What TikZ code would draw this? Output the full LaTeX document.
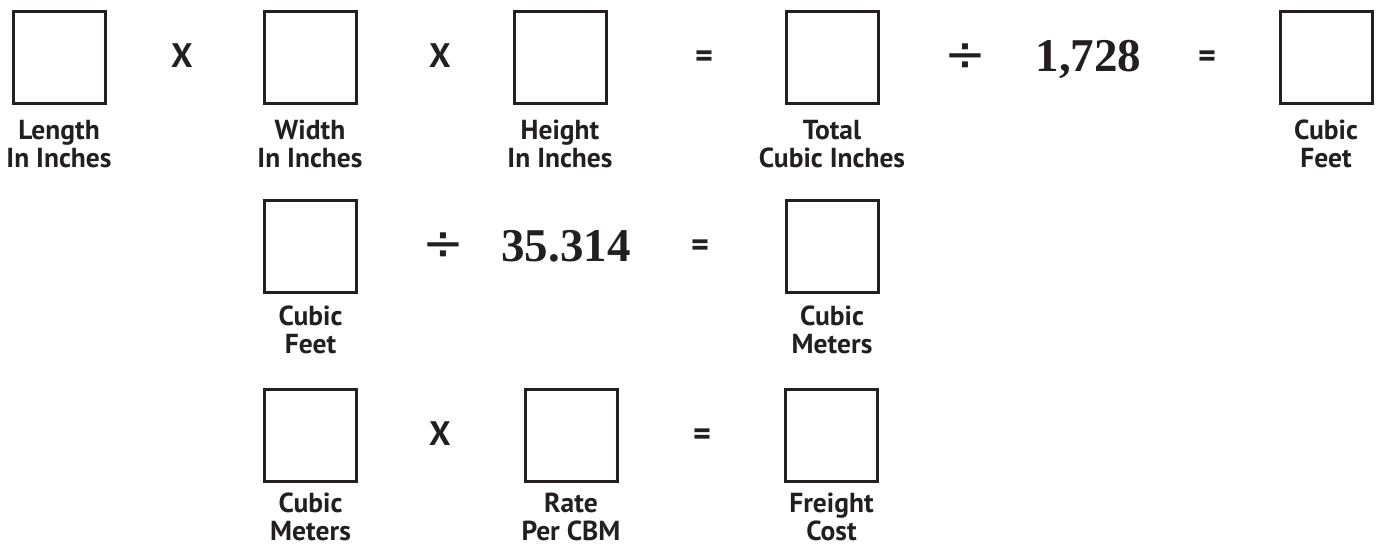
\documentclass[tikz,border=0pt]{standalone}
\usepackage{fontspec}
\setmainfont{PT Sans}
\newfontfamily\numfont{Liberation Serif}
\newfontfamily\symfont{DejaVu Sans}
\definecolor{ink}{HTML}{231F20}
\newcommand\twoline[2]{\vtop{\baselineskip=28pt\halign{\hfil##\hfil\cr #1\cr #2\cr}}}
\begin{document}
\begin{tikzpicture}[x=1pt,y=-1pt,
  valbox/.style={draw=ink,line width=3pt,minimum width=92pt,minimum height=92pt,inner sep=0pt},
  lbl/.style={anchor=base,inner sep=0pt,text=ink,font=\fontsize{27.5}{28}\selectfont\bfseries},
  op/.style={anchor=base,inner sep=0pt,text=ink,font=\fontsize{34}{36}\selectfont\bfseries},
  divop/.style={inner sep=0pt,text=ink,font=\fontsize{50}{52}\selectfont\symfont},
  num/.style={anchor=base,inner sep=0pt,text=ink,font=\fontsize{47}{50}\selectfont\numfont\bfseries}]
\useasboundingbox (0,0) rectangle (1376,546);
% Row 1
\node[valbox] (b1) at (59,57.5) {};
\node[valbox] (b2) at (310,57.5) {};
\node[valbox] (b3) at (560,57.5) {};
\node[valbox] (b4) at (832,57.5) {};
\node[valbox] (b5) at (1326,57.5) {};
\node[lbl] (l1) at ([yshift=-34pt]b1.south) {\twoline{Length}{In Inches}};
\node[lbl] (l2) at ([yshift=-34pt]b2.south) {\twoline{Width}{In Inches}};
\node[lbl] (l3) at ([yshift=-34pt]b3.south) {\twoline{Height}{In Inches}};
\node[lbl] (l4) at ([yshift=-34pt]b4.south) {\twoline{Total}{Cubic Inches}};
\node[lbl] (l5) at ([yshift=-34pt]b5.south) {\twoline{Cubic}{Feet}};
\node[op] (o1) at (182,67) {X};
\node[op] (o2) at (440,67) {X};
\node[op] (o3) at (704,67) {=};
\node[divop] (o4) at (965,58) {÷};
\node[num] (n1) at (1088.5,71.5) {1,728};
\node[op] (o5) at (1207,67) {=};
% Row 2
\node[valbox] (c1) at (310.5,246) {};
\node[valbox] (c2) at (832,246) {};
\node[lbl] (m1) at ([yshift=-32pt]c1.south) {\twoline{Cubic}{Feet}};
\node[lbl] (m2) at ([yshift=-32pt]c2.south) {\twoline{Cubic}{Meters}};
\node[divop] (p1) at (443,247) {÷};
\node[num] (n2) at (566,261) {35.314};
\node[op] (p2) at (700,256) {=};
% Row 3
\node[valbox] (d1) at (310.5,435.5) {};
\node[valbox] (d2) at (571,435.5) {};
\node[valbox] (d3) at (831.5,435.5) {};
\node[lbl] (r1) at ([yshift=-29pt]d1.south) {\twoline{Cubic}{Meters}};
\node[lbl] (r2) at ([yshift=-29pt]d2.south) {\twoline{Rate}{Per CBM}};
\node[lbl] (r3) at ([yshift=-29pt]d3.south) {\twoline{Freight}{Cost}};
\node[op] (q1) at (440,445) {X};
\node[op] (q2) at (702,445) {=};
\end{tikzpicture}
\end{document}
